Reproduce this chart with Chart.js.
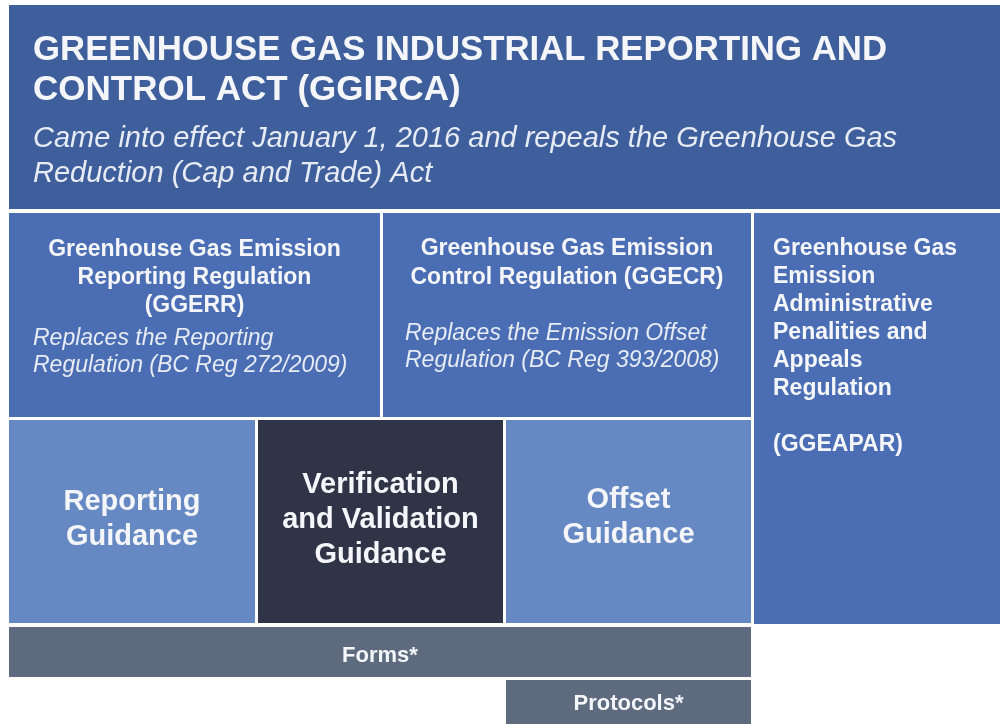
<!DOCTYPE html>
<html>
<head>
<meta charset="utf-8">
<script src="https://cdn.jsdelivr.net/npm/chart.js@4"></script>
<style>
  html, body { margin: 0; padding: 0; background: #ffffff; }
  canvas { display: block; }
</style>
</head>
<body>
<canvas id="actChart" width="1000" height="724"></canvas>
<script>
// boxes of the act diagram, extents in diagram units (x: 0..1000, y: 0..724 from top)
const boxNames = ["GGIRCA", "GGERR", "GGECR", "GGEAPAR", "Reporting", "Verification", "Offset", "Forms", "Protocols"];
const boxLeft   = [9,    9,   383, 754,  9,   258, 506, 9,   506];
const boxRight  = [1000, 380, 751, 1000, 255, 503, 751, 751, 751];
const boxTop    = [5,    213, 213, 213,  420, 420, 420, 627, 680];
const boxBottom = [209,  417, 417, 624,  623, 623, 623, 677, 724];

// text of each box
const headLines = [
  ["GREENHOUSE GAS INDUSTRIAL REPORTING AND", "CONTROL ACT (GGIRCA)"],
  ["Greenhouse Gas Emission", "Reporting Regulation", "(GGERR)"],
  ["Greenhouse Gas Emission", "Control Regulation (GGECR)"],
  ["Greenhouse Gas", "Emission", "Administrative", "Penalities and", "Appeals", "Regulation", "", "(GGEAPAR)"],
  ["Reporting", "Guidance"],
  ["Verification", "and Validation", "Guidance"],
  ["Offset", "Guidance"],
  ["Forms*"],
  ["Protocols*"]
];
const noteLines = [
  ["Came into effect January 1, 2016 and repeals the Greenhouse Gas", "Reduction (Cap and Trade) Act"],
  ["Replaces the Reporting", "Regulation (BC Reg 272/2009)"],
  ["Replaces the Emission Offset", "Regulation (BC Reg 393/2008)"],
  [], [], [], [], [], []
];

// styling, kept apart from the data
const fills = ["#3f5e9c", "#4a6db3", "#4a6db3", "#4a6db3", "#6688c3", "#2f3447", "#6688c3", "#5e6b7f", "#5e6b7f"];
const FAMILY = '"Liberation Sans", Arial, sans-serif';
// per box: head font, head align, head x-offset, first baseline offset, line height, note offsets
const textLayout = [
  { head: "bold 35px", align: "left", dx: 24, dy: 55, lh: 40, note: "italic 29px", ndx: 24, ndy: 142, nlh: 35, max: 854 },
  { head: "bold 23px", align: "center", dy: 43, lh: 28, note: "italic 23px", ndx: 24, ndy: 132, nlh: 27 },
  { head: "bold 23px", align: "center", dy: 42, lh: 29, note: "italic 23px", ndx: 22, ndy: 127, nlh: 27 },
  { head: "bold 23px", align: "left", dx: 19, dy: 42, lh: 28 },
  { head: "bold 29px", align: "center", dy: 90, lh: 35 },
  { head: "bold 29px", align: "center", dy: 73, lh: 35 },
  { head: "bold 29px", align: "center", dy: 88, lh: 35 },
  { head: "bold 22px", align: "center", dy: 35, lh: 26 },
  { head: "bold 22px", align: "center", dy: 30, lh: 26 }
];

const boxPlugin = {
  id: "boxes",
  beforeDatasetsDraw(chart) {
    const { ctx, scales: { x, y } } = chart;
    ctx.save();
    boxNames.forEach((name, i) => {
      const x0 = x.getPixelForValue(boxLeft[i]);
      const x1 = x.getPixelForValue(boxRight[i]);
      const y0 = y.getPixelForValue(boxTop[i]);
      const y1 = y.getPixelForValue(boxBottom[i]);
      ctx.fillStyle = fills[i];
      ctx.fillRect(x0, y0, x1 - x0, y1 - y0);

      const L = textLayout[i];
      ctx.fillStyle = "#f4f6fa";
      ctx.textBaseline = "alphabetic";
      ctx.font = L.head + " " + FAMILY;
      ctx.textAlign = L.align;
      const tx = L.align === "center" ? (x0 + x1) / 2 : x0 + L.dx;
      headLines[i].forEach((t, k) => {
        if (L.max) ctx.fillText(t, tx, y0 + L.dy + k * L.lh, L.max);
        else ctx.fillText(t, tx, y0 + L.dy + k * L.lh);
      });
      if (noteLines[i].length) {
        ctx.font = L.note + " " + FAMILY;
        ctx.textAlign = "left";
        ctx.fillStyle = "#e6ebf4";
        noteLines[i].forEach((t, k) => {
          ctx.fillText(t, x0 + L.ndx, y0 + L.ndy + k * L.nlh);
        });
      }
    });
    ctx.restore();
  }
};

new Chart(document.getElementById("actChart").getContext("2d"), {
  type: "scatter",
  data: {
    datasets: [{
      label: "boxes",
      data: boxNames.map((n, i) => ({ x: (boxLeft[i] + boxRight[i]) / 2, y: (boxTop[i] + boxBottom[i]) / 2 })),
      pointRadius: 0
    }]
  },
  options: {
    responsive: false,
    animation: false,
    devicePixelRatio: 1,
    layout: { padding: 0 },
    plugins: { legend: { display: false }, tooltip: { enabled: false }, title: { display: false } },
    scales: {
      x: { type: "linear", min: 0, max: 1000, display: false },
      y: { type: "linear", min: 0, max: 724, reverse: true, display: false }
    }
  },
  plugins: [boxPlugin]
});
</script>
</body>
</html>
